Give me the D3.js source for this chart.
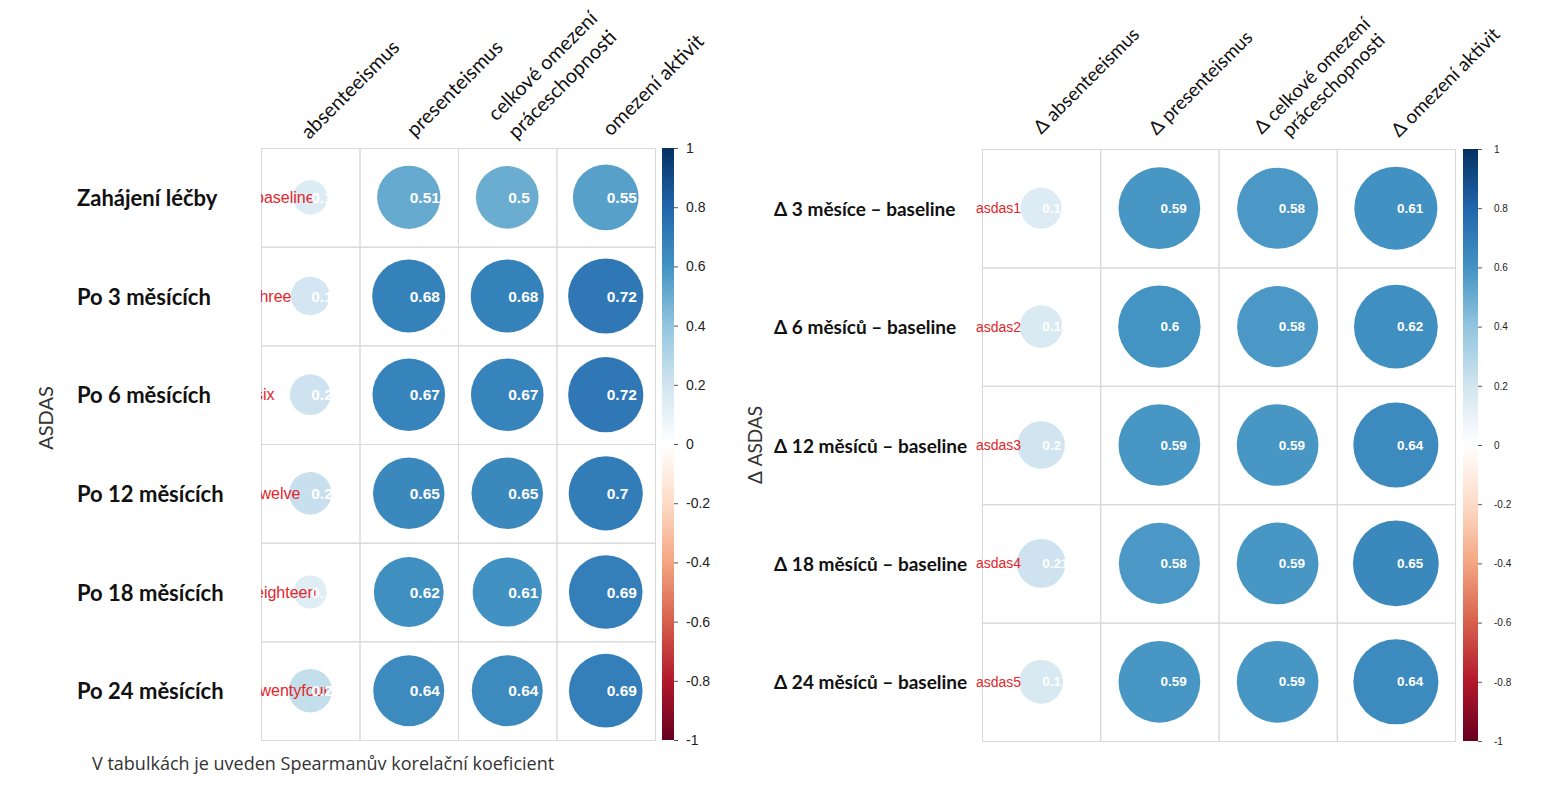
<!DOCTYPE html>
<html lang="cs">
<head>
<meta charset="UTF-8">
<title>ASDAS korelace</title>
<style>
  body { margin: 0; overflow: hidden; background: #fff; }
  svg text { font-family: "Liberation Sans", Arial, sans-serif; }
</style>
</head>
<body>
<script src="https://cdnjs.cloudflare.com/ajax/libs/d3/7.8.2/d3.min.js"></script>
<script>
// ---- data ----
const leftRowKeys = ["baseline", "three", "six", "twelve", "eighteen", "twentyfour"];
const leftRowNames = ["Zahájení léčby", "Po 3 měsících", "Po 6 měsících", "Po 12 měsících", "Po 18 měsících", "Po 24 měsících"];
const leftColNames = [["absenteeismus"], ["presenteismus"], ["celkové omezení", "práceschopnosti"], ["omezení aktivit"]];
const leftValues = [
  [0.15, 0.51, 0.5, 0.55],
  [0.19, 0.68, 0.68, 0.72],
  [0.21, 0.67, 0.67, 0.72],
  [0.23, 0.65, 0.65, 0.7],
  [0.14, 0.62, 0.61, 0.69],
  [0.24, 0.64, 0.64, 0.69]
];

const rightRowKeys = ["asdas1", "asdas2", "asdas3", "asdas4", "asdas5"];
const rightRowNames = ["Δ 3 měsíce – baseline", "Δ 6 měsíců – baseline", "Δ 12 měsíců – baseline", "Δ 18 měsíců – baseline", "Δ 24 měsíců – baseline"];
const rightColNames = [["Δ absenteeismus"], ["Δ presenteismus"], ["Δ celkové omezení", "práceschopnosti"], ["Δ omezení aktivit"]];
const rightValues = [
  [0.15, 0.59, 0.58, 0.61],
  [0.16, 0.6, 0.58, 0.62],
  [0.2, 0.59, 0.59, 0.64],
  [0.21, 0.58, 0.59, 0.65],
  [0.17, 0.59, 0.59, 0.64]
];

const colorTicks = [-1, -0.8, -0.6, -0.4, -0.2, 0, 0.2, 0.4, 0.6, 0.8, 1];
const rdbu = ["#67001F", "#B2182B", "#D6604D", "#F4A582", "#FDDBC7", "#FFFFFF",
              "#D1E5F0", "#92C5DE", "#4393C3", "#2166AC", "#053061"];

const W = 1550, H = 800;
const color = d3.scaleLinear().domain(colorTicks).range(rdbu);
const fmt = v => String(+v.toFixed(2));

const svg = d3.select("body").append("svg")
  .attr("width", W).attr("height", H);

const defs = svg.append("defs");
const grad = defs.append("linearGradient").attr("id", "cbar")
  .attr("x1", 0).attr("y1", 1).attr("x2", 0).attr("y2", 0);
grad.selectAll("stop").data(colorTicks).join("stop")
  .attr("offset", d => (d + 1) / 2)
  .attr("stop-color", d => color(d));

function drawPanel(o) {
  const g = svg.append("g");
  const x = d3.scaleBand().domain(d3.range(o.cols.length)).range([o.x0, o.x1]);
  const y = d3.scaleBand().domain(d3.range(o.rows.length)).range([o.y0, o.y1]);
  const cw = x.bandwidth(), ch = y.bandwidth();

  const clipId = o.id + "-clip";
  defs.append("clipPath").attr("id", clipId)
    .append("rect").attr("x", o.x0).attr("y", o.y0)
    .attr("width", o.x1 - o.x0 + 200).attr("height", o.y1 - o.y0);

  // grid
  g.append("g").selectAll("rect")
    .data(d3.cross(d3.range(o.rows.length), d3.range(o.cols.length)))
    .join("rect")
    .attr("x", d => x(d[1]) + 0.5).attr("y", d => y(d[0]) + 0.5)
    .attr("width", cw).attr("height", ch)
    .attr("fill", "none").attr("stroke", "#d9d9d9").attr("stroke-width", 1);

  const cells = o.values.flatMap((row, i) => row.map((v, j) => ({ i, j, v })));

  // circles
  g.append("g").selectAll("circle").data(cells).join("circle")
    .attr("cx", d => x(d.j) + cw / 2)
    .attr("cy", d => y(d.i) + ch / 2)
    .attr("r", d => Math.sqrt(Math.abs(d.v)) * 0.45 * cw)
    .attr("fill", d => color(d.v));

  // red row keys (clipped at grid edge on the left panel)
  g.append("g").attr("clip-path", o.clipKeys ? `url(#${clipId})` : null)
    .selectAll("text").data(o.keys).join("text")
    .attr("x", o.keyX)
    .attr("y", (d, i) => y(i) + ch / 2)
    .attr("dominant-baseline", "central")
    .attr("font-size", o.keySize)
    .attr("fill", "#e3262b")
    .text(d => d);

  // coefficient numbers
  g.append("g").selectAll("text").data(cells).join("text")
    .attr("x", d => x(d.j) + cw / 2 + 1)
    .attr("y", d => y(d.i) + ch / 2)
    .attr("dominant-baseline", "central")
    .attr("font-size", o.numSize)
    .attr("font-weight", "bold")
    .attr("fill", "#fff")
    .text(d => fmt(d.v));

  // row names
  g.append("g").selectAll("text").data(o.rows).join("text")
    .attr("x", o.rowX)
    .attr("y", (d, i) => y(i) + ch / 2)
    .attr("dominant-baseline", "central")
    .style("font-family", "Lato, 'Open Sans', sans-serif")
    .attr("font-weight", "bold")
    .attr("font-size", o.rowSize)
    .attr("fill", "#111")
    .text(d => d);

  // column names, rotated 45 degrees, one text per line
  const lines = o.cols.flatMap((c, j) => c.map((t, k) => ({ t, j, k })));
  g.append("g").selectAll("text").data(lines).join("text")
    .attr("transform", d => {
      const off = o.colOff[d.j][d.k];
      return `translate(${x(d.j) + cw / 2 + off[0]},${o.colY + off[1]}) rotate(-45)`;
    })
    .style("font-family", "Lato, 'Open Sans', sans-serif")
    .attr("font-size", o.colSize)
    .attr("fill", "#111")
    .text(d => d.t);

  // axis title
  svg.append("text")
    .attr("transform", `translate(${o.titleX},${o.titleY}) rotate(-90)`)
    .attr("text-anchor", "middle")
    .style("font-family", "Lato, 'Open Sans', sans-serif")
    .attr("font-size", o.titleSize)
    .attr("fill", "#333")
    .text(o.title);

  // colour bar
  const cb = svg.append("g");
  cb.append("rect")
    .attr("x", o.cbX).attr("y", o.y0)
    .attr("width", o.cbW).attr("height", o.y1 - o.y0)
    .attr("fill", "url(#cbar)");
  const cs = d3.scaleLinear().domain([-1, 1]).range([o.y1, o.y0]);
  const ax = cb.append("g")
    .attr("transform", `translate(${o.cbX + o.cbW},0)`)
    .call(d3.axisRight(cs).tickValues(colorTicks).tickSize(4).tickPadding(o.cbPad).tickFormat(d => String(+d.toFixed(1))));
  ax.select(".domain").remove();
  ax.selectAll("line").attr("stroke", "#555");
  ax.selectAll("text").attr("font-size", o.cbSize).attr("fill", "#222")
    .style("font-family", "'Liberation Sans', Arial, sans-serif");
}

drawPanel({
  id: "left", rows: leftRowNames, keys: leftRowKeys, cols: leftColNames, values: leftValues,
  x0: 261, x1: 655, y0: 148, y1: 740,
  keyX: 255, keySize: 16, clipKeys: true, numSize: 15.5,
  rowX: 77, rowSize: 22, colSize: 20, colY: 139,
  colOff: [[[-1, 1]], [[6, -1]], [[-11, -17], [9, 1]], [[5, -2]]],
  title: "ASDAS", titleX: 53, titleY: 418, titleSize: 20,
  cbX: 662, cbW: 12, cbSize: 14, cbPad: 8
});

drawPanel({
  id: "right", rows: rightRowNames, keys: rightRowKeys, cols: rightColNames, values: rightValues,
  x0: 982, x1: 1455, y0: 149, y1: 741,
  keyX: 976, keySize: 14, clipKeys: false, numSize: 13.5,
  rowX: 774, rowSize: 19, colSize: 19, colY: 136,
  colOff: [[[0, -1]], [[-3, 0]], [[-16, -1], [12, 2]], [[3, 2]]],
  title: "Δ ASDAS", titleX: 762, titleY: 445, titleSize: 19,
  cbX: 1463, cbW: 15, cbSize: 10, cbPad: 12
});

svg.append("text")
  .attr("x", 92).attr("y", 770)
  .style("font-family", "'Open Sans', Lato, sans-serif")
  .attr("font-size", 18)
  .attr("fill", "#333")
  .text("V tabulkách je uveden Spearmanův korelační koeficient");
</script>
</body>
</html>
